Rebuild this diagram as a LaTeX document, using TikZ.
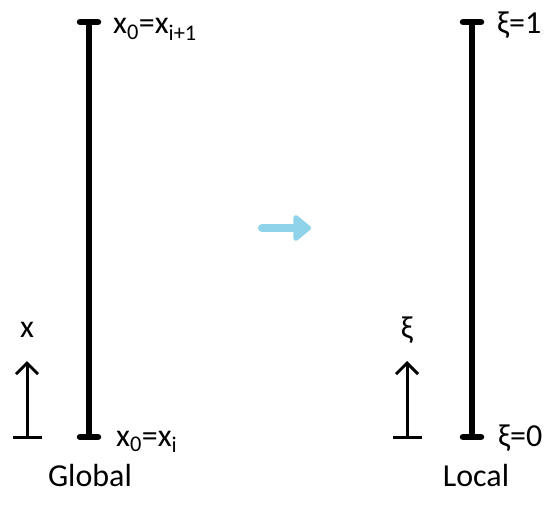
\documentclass[tikz,border=0pt]{standalone}
\usepackage{fontspec}
\setmainfont{Carlito}
\usetikzlibrary{arrows.meta}
\definecolor{arrowblue}{RGB}{143,211,232}
\tikzset{
  bigbar/.style={line width=6.5pt},
  barcap/.style={line width=6.5pt, line cap=round},
  smallaxis/.style={line width=3pt, -{Straight Barb[length=11pt,width=22pt,line width=3pt]}},
  smalltick/.style={line width=3pt},
  lbl/.style={font=\fontsize{32}{36}\selectfont, inner sep=0pt, anchor=base west},
  ttl/.style={font=\fontsize{32}{36}\selectfont, inner sep=0pt, anchor=base},
}
\begin{document}
\begin{tikzpicture}[x=1pt,y=-1pt]
\useasboundingbox (0,0) rectangle (547,519);
% left bar
\coordinate (LT) at (89,22);
\coordinate (LB) at (89,437);
\draw[bigbar] (LT) -- (LB);
\draw[barcap] (80,22) -- (98,22);
\draw[barcap] (80,437) -- (98,437);
% right bar
\coordinate (RT) at (472,22);
\coordinate (RB) at (472,437);
\draw[bigbar] (RT) -- (RB);
\draw[barcap] (463,22) -- (481,22);
\draw[barcap] (463,437) -- (481,437);
% labels
\node[lbl] (lt) at (113,34) {x\textsubscript{0}=x\textsubscript{i+1}};
\node[lbl] (lb) at (116,446) {x\textsubscript{0}=x\textsubscript{i}};
\node[lbl] (rt) at (497,34) {ξ=1};
\node[lbl] (rb) at (498,446) {ξ=0};
% small axes
\coordinate (a1) at (27,437);
\coordinate (a1t) at (27,361);
\draw[smalltick] (13,437) -- (42,437);
\draw[smallaxis] (a1) -- (a1t);
\node[ttl] (xl) at (27,337) {x};
\coordinate (a2) at (407,437);
\coordinate (a2t) at (407,361);
\draw[smalltick] (393,437) -- (422,437);
\draw[smallaxis] (a2) -- (a2t);
\node[ttl] (xil) at (407,338) {ξ};
% titles
\node[ttl] (g) at (90,486) {Global};
\node[ttl] (l) at (476,486) {Local};
% blue arrow
\coordinate (b1) at (262,228);
\coordinate (b2) at (311,228);
\draw[arrowblue, line width=8pt, line cap=round, -{Triangle[length=19pt,width=30pt,round]}] (b1) -- (b2);
\end{tikzpicture}
\end{document}
